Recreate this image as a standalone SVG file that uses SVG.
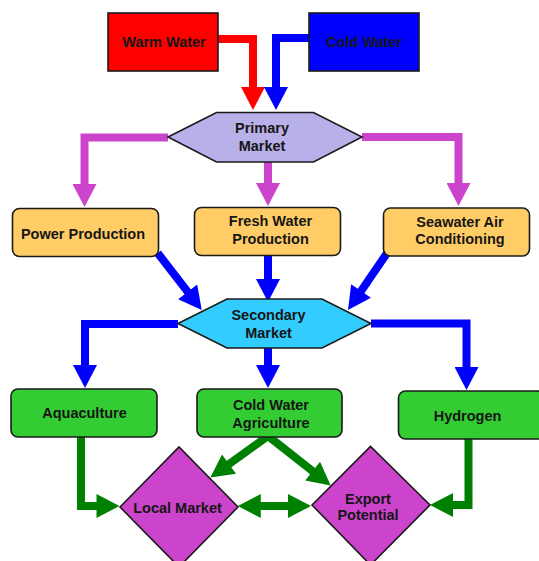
<svg xmlns="http://www.w3.org/2000/svg" width="539" height="561" viewBox="0 0 539 561">
<style>
  text { font-family: "Liberation Sans", Arial, sans-serif; font-weight: bold; font-size: 14.5px; fill: #161616; text-anchor: middle; }
  .box { stroke: #1a1a1a; stroke-width: 1.6; }
  .orange { fill: #FFCC66; }
  .green { fill: #33CC33; }
  .diamond { fill: #CC44CC; stroke: #1a1a1a; stroke-width: 1.6; }
  .con { fill: none; stroke-width: 8; stroke-linejoin: miter; }
  .red { stroke: #FF0000; marker-end: url(#ar); }
  .blue { stroke: #0000FF; marker-end: url(#ab); }
  .mag { stroke: #CC44CC; marker-end: url(#am); }
  .dg { stroke: #008000; marker-end: url(#ag); }
</style>
<defs>
  <marker id="ar" markerUnits="userSpaceOnUse" markerWidth="24" markerHeight="24" viewBox="0 0 23 24" refX="2" refY="12" orient="auto"><path d="M0,0 L23,12 L0,24 Z" fill="#FF0000"/></marker>
  <marker id="ab" markerUnits="userSpaceOnUse" markerWidth="24" markerHeight="24" viewBox="0 0 23 24" refX="2" refY="12" orient="auto"><path d="M0,0 L23,12 L0,24 Z" fill="#0000FF"/></marker>
  <marker id="am" markerUnits="userSpaceOnUse" markerWidth="24" markerHeight="24" viewBox="0 0 23 24" refX="2" refY="12" orient="auto"><path d="M0,0 L23,12 L0,24 Z" fill="#CC44CC"/></marker>
  <marker id="ag" markerUnits="userSpaceOnUse" markerWidth="24" markerHeight="24" viewBox="0 0 23 24" refX="2" refY="12" orient="auto-start-reverse"><path d="M0,0 L23,12 L0,24 Z" fill="#008000"/></marker>
</defs>
<rect width="539" height="561" fill="#FFFFFF"/>
<g id="connectors">
  <path class="con red" d="M218,39 H253 V89"/>
  <path class="con blue" d="M309,38 H276 V89"/>
  <path class="con mag" d="M168,137.5 H84.5 V186"/>
  <path class="con mag" d="M268,162 V185"/>
  <path class="con mag" d="M362,137 H458.5 V185"/>
  <path class="con blue" d="M157.7,253 L188.9,293.4"/>
  <path class="con blue" d="M268,255 V281"/>
  <path class="con blue" d="M387.6,252.3 L359.9,292.7"/>
  <path class="con blue" d="M178,324 H85 V367"/>
  <path class="con blue" d="M268,348 V367"/>
  <path class="con blue" d="M371,323.5 H466.5 V369"/>
  <path class="con dg" d="M81,437 V506 H98.5"/>
  <path class="con dg" d="M468.5,439 V505 H451"/>
  <path class="con dg" d="M268,436 L227.4,465.3"/>
  <path class="con dg" d="M268,436 L314.2,472.4"/>
  <path class="con dg" d="M258.8,506 H290" style="marker-start:url(#ag)"/>
</g>
<g id="warm-water">
  <rect class="box" x="108" y="13" width="110" height="58" fill="#FF0000"/>
  <text x="164" y="47">Warm Water</text>
</g>
<g id="cold-water">
  <rect class="box" x="309" y="13" width="110" height="58" fill="#0000FF"/>
  <text x="364" y="47">Cold Water</text>
</g>
<g id="primary-market">
  <polygon class="box" points="168,137 216.5,112.5 313.5,112.5 362,137 313.5,162 216.5,162" fill="#B8B0E8"/>
  <text x="262" y="133">Primary</text>
  <text x="262" y="150.5">Market</text>
</g>
<g id="power-production">
  <rect class="box orange" x="12.5" y="208.5" width="146" height="48" rx="7"/>
  <text x="83" y="239">Power Production</text>
</g>
<g id="fresh-water-production">
  <rect class="box orange" x="194.5" y="207.5" width="146" height="48" rx="7"/>
  <text x="270.5" y="225.5">Fresh Water</text>
  <text x="270.5" y="243.5">Production</text>
</g>
<g id="seawater-air-conditioning">
  <rect class="box orange" x="383.5" y="208" width="146" height="48" rx="7"/>
  <text x="460" y="226.5">Seawater Air</text>
  <text x="460" y="244">Conditioning</text>
</g>
<g id="secondary-market">
  <polygon class="box" points="178,323.5 227,299 322,299 371,323.5 322,348 227,348" fill="#33CCFF"/>
  <text x="268.5" y="320">Secondary</text>
  <text x="268.5" y="337.5">Market</text>
</g>
<g id="aquaculture">
  <rect class="box green" x="11" y="389" width="146" height="48" rx="7"/>
  <text x="84.5" y="418">Aquaculture</text>
</g>
<g id="cold-water-agriculture">
  <rect class="box green" x="197" y="389" width="145" height="48" rx="7"/>
  <text x="271" y="410">Cold Water</text>
  <text x="271" y="427.5">Agriculture</text>
</g>
<g id="hydrogen">
  <rect class="box green" x="398.5" y="391" width="146" height="48" rx="7"/>
  <text x="467.5" y="420.5">Hydrogen</text>
</g>
<g id="local-market">
  <polygon class="diamond" points="120,507 179,447 238,507 179,567"/>
  <text x="177.5" y="512.5">Local Market</text>
</g>
<g id="export-potential">
  <polygon class="diamond" points="312,505 370.5,446.5 430,505 370.5,565"/>
  <text x="368" y="503.5">Export</text>
  <text x="368" y="519.5">Potential</text>
</g>
</svg>
